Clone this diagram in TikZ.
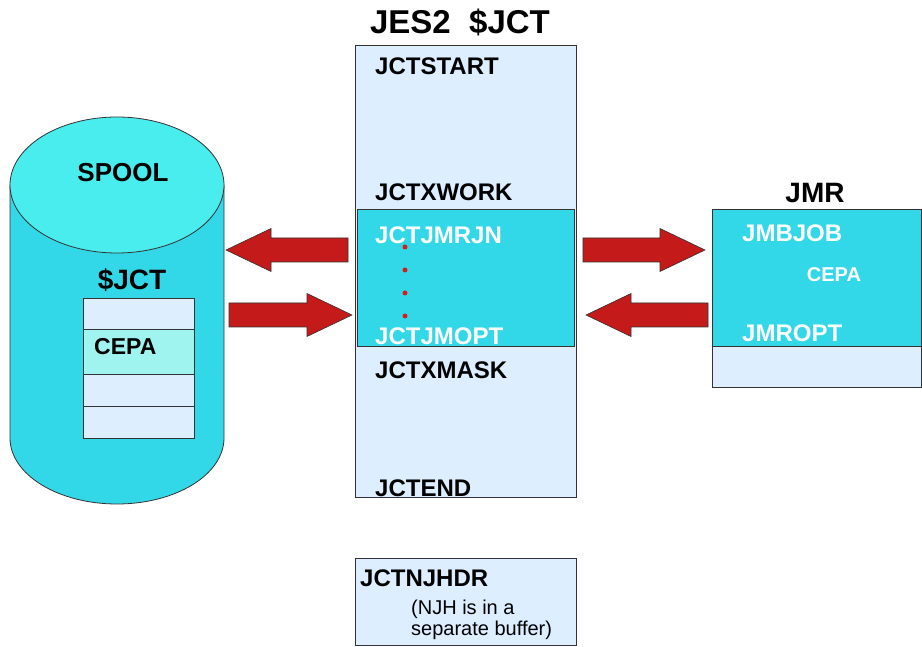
\documentclass[tikz,border=0pt]{standalone}
\usepackage{fontspec}
\setmainfont{Liberation Sans}
\usetikzlibrary{calc}
\definecolor{spooltop}{RGB}{74,237,238}
\definecolor{cyanbox}{RGB}{51,216,232}
\definecolor{paleblue}{RGB}{220,238,255}
\definecolor{cepacell}{RGB}{160,244,240}
\definecolor{arrowred}{RGB}{196,26,26}
\definecolor{dotred}{RGB}{210,30,30}

% fat horizontal arrow from tail #1 to tip #2
\newcommand{\fatarrow}[2]{%
  \filldraw[fill=arrowred, draw=black!80, line width=0.6pt]
    let \p1=(#1), \p2=(#2), \n1={ifthenelse(\x2>\x1,1,-1)} in
    (\x1,{\y1+12pt}) -- ({\x2-\n1*45pt},{\y1+12pt}) -- ({\x2-\n1*45pt},{\y1+21.5pt})
    -- (\x2,\y2) -- ({\x2-\n1*45pt},{\y1-21.5pt}) -- ({\x2-\n1*45pt},{\y1-12pt})
    -- (\x1,{\y1-12pt}) -- cycle;}

\begin{document}
\begin{tikzpicture}[x=1pt,y=1pt,
    lbl/.style={font=\fontsize{24}{28}\selectfont\bfseries, anchor=base west, inner sep=0},
    wlbl/.style={lbl, text=white},
    ttl/.style={font=\fontsize{28}{32}\selectfont\bfseries, inner sep=0},
    box/.style={draw=black!80, line width=0.8pt, inner sep=0},
    cell/.style={box, fill=paleblue, minimum width=111}]
  \useasboundingbox (0,0) rectangle (922,646);

  % spool cylinder
  \draw[fill=cyanbox, draw=black!80, line width=0.8pt] (10,461) -- (10,208)
    arc[start angle=180, end angle=360, x radius=107, y radius=66] -- (224,461) -- cycle;
  \draw[fill=spooltop, draw=black!80, line width=0.8pt] (117,461) ellipse[x radius=107, y radius=68];
  \node[ttl, font=\fontsize{26}{30}\selectfont\bfseries] (spool) at (123,473) {SPOOL};
  \node[ttl] (spooljct) at (132,366) {\$JCT};
  \node[cell, minimum height=31] (row1) at (138.5,332.5) {};
  \node[cell, fill=cepacell, minimum height=45] (row2) at (138.5,294.5) {};
  \node[cell, minimum height=32] (row3) at (138.5,256) {};
  \node[cell, minimum height=32] (row4) at (138.5,224) {};
  \node[lbl, font=\fontsize{23}{26}\selectfont\bfseries] (cepa1) at (94,291.5) {CEPA};

  % JES2 $JCT
  \node[ttl, font=\fontsize{33}{36}\selectfont\bfseries] (title) at (460,624) {JES2\ \ \$JCT};
  \node[box, fill=paleblue, minimum width=221, minimum height=452] (jct) at (465.5,375) {};
  \node[box, fill=cyanbox, minimum width=217, minimum height=137] (jctjmr) at (465.5,368.5) {};
  \node[lbl] (jctstart) at (375,571.4) {JCTSTART};
  \node[lbl] (jctxwork) at (375,445.4) {JCTXWORK};
  \node[wlbl] (jctjmrjn) at (375,402.4) {JCTJMRJN};
  \node[wlbl] (jctjmopt) at (375,301) {JCTJMOPT};
  \node[lbl] (jctxmask) at (375,267.4) {JCTXMASK};
  \node[lbl] (jctend) at (375,149.4) {JCTEND};
  \foreach \y in {399,376,353,330}
    \fill[dotred] (405,\y) circle (2.5);

  % JMR
  \node[ttl] (jmrtitle) at (815,453) {JMR};
  \node[box, fill=cyanbox, minimum width=209, minimum height=137] (jmr) at (816.5,368.5) {};
  \node[box, fill=paleblue, minimum width=209, minimum height=41] (jmrtail) at (816.5,279.5) {};
  \node[wlbl] (jmbjob) at (742,404.4) {JMBJOB};
  \node[wlbl, font=\fontsize{20}{24}\selectfont\bfseries, anchor=center] (cepa2) at (834,371) {CEPA};
  \node[wlbl] (jmropt) at (742,304.4) {JMROPT};

  % NJH
  \node[box, fill=paleblue, minimum width=221, minimum height=87] (njh) at (465.5,44.5) {};
  \node[lbl] (jctnjhdr) at (360,59.4) {JCTNJHDR};
  \node[lbl, font=\fontsize{20}{20}\selectfont, align=left] (njhnote) at (411,11) {(NJH is in a\\separate buffer)};

  % arrows
  \coordinate (a1tail) at (348,396);  \coordinate (a1tip) at (226,396);
  \coordinate (a2tail) at (229,331);  \coordinate (a2tip) at (352,331);
  \coordinate (a3tail) at (583,396);  \coordinate (a3tip) at (705,396);
  \coordinate (a4tail) at (708,331);  \coordinate (a4tip) at (586,331);
  \fatarrow{a1tail}{a1tip}
  \fatarrow{a2tail}{a2tip}
  \fatarrow{a3tail}{a3tip}
  \fatarrow{a4tail}{a4tip}
\end{tikzpicture}
\end{document}
